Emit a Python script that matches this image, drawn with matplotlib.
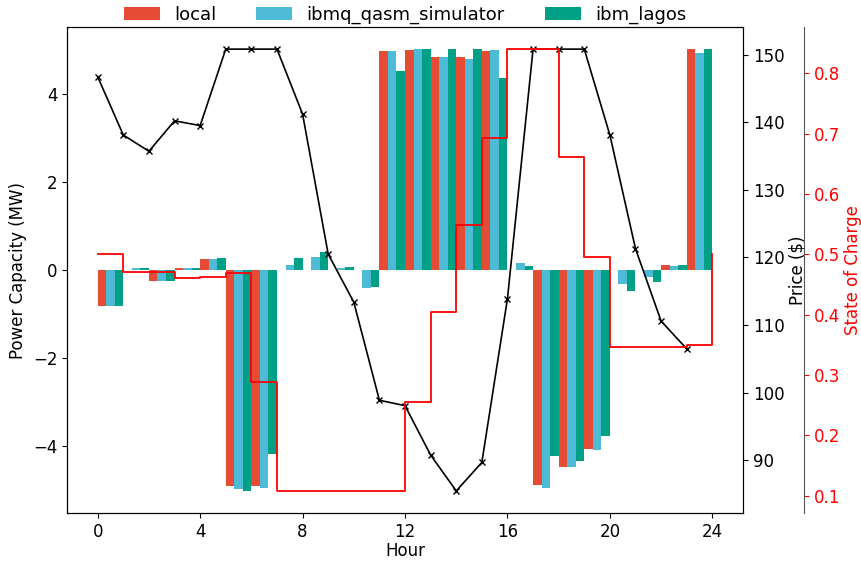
import numpy as np
import matplotlib
matplotlib.use('Agg')
import matplotlib.pyplot as plt

hours = np.arange(24)

local = [-0.82, 0.0, -0.25, 0.03, 0.23, -4.92, -4.92, 0.0, 0.0, 0.0, 0.0, 4.97,
         4.99, 4.83, 4.83, 4.97, 0.0, -4.89, -4.48, -4.07, 0.0, 0.0, 0.11, 5.01]
qasm_sim = [-0.82, 0.03, -0.25, 0.03, 0.23, -4.98, -4.96, 0.11, 0.29, 0.03, -0.42, 4.97,
            5.01, 4.83, 4.78, 4.99, 0.14, -4.96, -4.48, -4.10, -0.33, -0.17, 0.07, 4.92]
lagos = [-0.83, 0.03, -0.27, 0.03, 0.26, -5.03, -4.19, 0.27, 0.41, 0.05, -0.39, 4.51,
         5.01, 5.01, 5.01, 4.35, 0.07, -4.23, -4.35, -3.78, -0.49, -0.29, 0.11, 5.01]

price = [146.7, 138.1, 135.7, 140.2, 139.5, 150.8, 150.8, 150.8, 141.2, 120.5, 113.4, 98.9,
         98.1, 90.8, 85.5, 89.7, 113.9, 150.8, 150.8, 150.8, 138.1, 121.3, 110.6, 106.5]

soc_hours = np.arange(25)
soc = [0.500, 0.471, 0.471, 0.461, 0.462, 0.469, 0.288, 0.108, 0.108, 0.108, 0.108, 0.108,
       0.255, 0.404, 0.549, 0.692, 0.840, 0.840, 0.661, 0.496, 0.347, 0.347, 0.347, 0.350,
       0.500]

colors = ['#E64B35', '#4DBBD5', '#00A087']
names = ['local', 'ibmq_qasm_simulator', 'ibm_lagos']
fs = 12

fig = plt.figure(figsize=(8.62, 5.63), dpi=100)
ax = fig.add_axes([0.0777, 0.0888, 0.7843, 0.8632])

w = 1 / 3
for i, (vals, c, n) in enumerate(zip([local, qasm_sim, lagos], colors, names)):
    ax.bar(hours + i * w, vals, w, align='edge', color=c, label=n)

ax.set_xticks([0, 4, 8, 12, 16, 20, 24])
ax.set_xlabel('Hour', fontsize=fs, labelpad=1)
ax.set_ylabel('Power Capacity (MW)', fontsize=fs)
ax.tick_params(labelsize=fs)
ax.legend(loc='lower center', bbox_to_anchor=(0.5, 0.972), ncol=3, frameon=False,
          fontsize=13, columnspacing=2.2)

ax2 = ax.twinx()
ax2.plot(hours, price, color='black', marker='x', lw=1.2, ms=5)
ax2.set_ylabel('Price ($)', fontsize=fs, labelpad=3)
ax2.tick_params(labelsize=fs)

ax3 = ax.twinx()
ax3.spines['right'].set_position(('axes', 1.09))
ax3.spines['right'].set_color('#555555')
for s in ['top', 'left', 'bottom']:
    ax3.spines[s].set_visible(False)
ax3.plot(soc_hours, soc, color='red', drawstyle='steps-post', lw=1.3)
ax3.set_ylabel('State of Charge', color='red', fontsize=fs, labelpad=3)
ax3.tick_params(labelsize=fs, colors='red')

fig.savefig('out.png', dpi=100)
